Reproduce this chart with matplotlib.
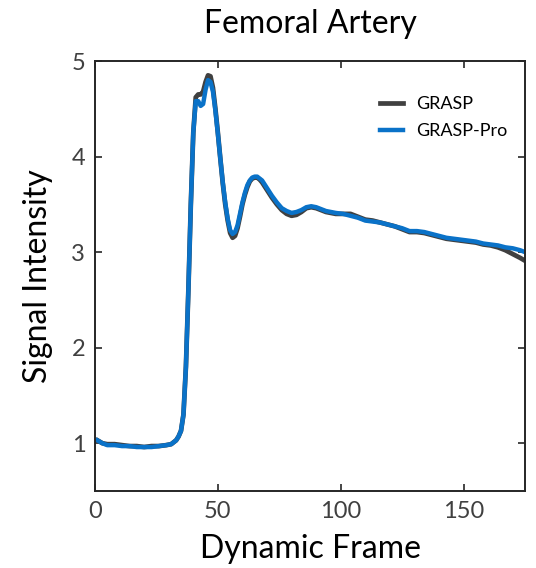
import matplotlib
matplotlib.use("Agg")
import matplotlib.pyplot as plt

plt.rcParams['font.family'] = ['Lato', 'DejaVu Sans']

frames = [1, 3, 5, 8, 11, 14, 17, 20, 23, 26, 29, 31, 32, 33, 34, 35, 36, 37, 38, 39,
          40, 41, 42, 43, 44, 45, 46, 47, 48, 49, 50, 51, 52, 53, 54, 55, 56, 57, 58, 59,
          60, 61, 62, 63, 64, 65, 66, 67, 68, 70, 72, 74, 76, 78, 80, 82, 84, 86, 88, 90,
          92, 94, 96, 98, 101, 104, 107, 110, 113, 116, 119, 122, 125, 128, 131, 134, 137,
          140, 143, 146, 149, 152, 155, 158, 161, 164, 167, 170, 173, 175]

grasp = [1.03, 1.00, 0.99, 0.99, 0.98, 0.97, 0.97, 0.96, 0.97, 0.97, 0.98, 0.99, 1.01, 1.03,
         1.07, 1.13, 1.30, 1.80, 2.60, 3.50, 4.25, 4.62, 4.65, 4.65, 4.68, 4.78, 4.85, 4.84,
         4.72, 4.50, 4.25, 3.98, 3.72, 3.50, 3.33, 3.20, 3.15, 3.17, 3.25, 3.37, 3.50, 3.60,
         3.68, 3.74, 3.77, 3.78, 3.78, 3.76, 3.73, 3.65, 3.57, 3.50, 3.44, 3.40, 3.38, 3.39,
         3.42, 3.46, 3.47, 3.46, 3.44, 3.42, 3.41, 3.40, 3.40, 3.40, 3.37, 3.34, 3.33, 3.31,
         3.29, 3.27, 3.24, 3.21, 3.21, 3.20, 3.18, 3.16, 3.14, 3.13, 3.12, 3.11, 3.10, 3.08,
         3.07, 3.05, 3.02, 2.98, 2.94, 2.91]

grasp_pro = [1.03, 1.00, 0.98, 0.98, 0.97, 0.97, 0.96, 0.96, 0.96, 0.97, 0.98, 0.99, 1.01, 1.03,
             1.07, 1.13, 1.30, 1.80, 2.60, 3.50, 4.25, 4.58, 4.58, 4.53, 4.55, 4.70, 4.80, 4.78,
             4.68, 4.48, 4.24, 3.98, 3.73, 3.52, 3.35, 3.23, 3.19, 3.21, 3.28, 3.40, 3.52, 3.62,
             3.70, 3.75, 3.78, 3.79, 3.79, 3.77, 3.75, 3.67, 3.59, 3.52, 3.46, 3.43, 3.41, 3.42,
             3.44, 3.47, 3.48, 3.47, 3.45, 3.43, 3.42, 3.41, 3.40, 3.38, 3.36, 3.33, 3.32, 3.31,
             3.29, 3.27, 3.25, 3.22, 3.22, 3.21, 3.19, 3.17, 3.15, 3.14, 3.13, 3.12, 3.11, 3.09,
             3.08, 3.07, 3.05, 3.04, 3.02, 3.00]

xticks = [0, 50, 100, 150]
yticks = [1, 2, 3, 4, 5]

fig = plt.figure(figsize=(5.36, 5.68), dpi=100)
ax = fig.add_axes([95/536, 1 - 491/568, (525 - 95)/536, (491 - 61)/568])

ax.plot(frames, grasp, color='#404040', lw=3.4, label='GRASP', solid_joinstyle='round')
ax.plot(frames, grasp_pro, color='#0a72c8', lw=3.2, label='GRASP-Pro', solid_joinstyle='round')

ax.set_xlim(0, 175)
ax.set_ylim(0.5, 5)
ax.set_xticks(xticks)
ax.set_yticks(yticks)
ax.tick_params(direction='in', length=5, width=1.2, top=True, right=True,
               labelsize=17, labelcolor='#404040', color='#262626', pad=7)
for s in ax.spines.values():
    s.set_linewidth(1.4)
    s.set_color('#262626')

ax.set_xlabel('Dynamic Frame', fontsize=23, color='black', labelpad=9)
ax.set_ylabel('Signal Intensity', fontsize=23, color='black', labelpad=13)
ax.set_title('Femoral Artery', fontsize=23, color='black', pad=20)

leg = ax.legend(loc='upper right', frameon=False, fontsize=13, handlelength=1.3,
                handletextpad=0.7, borderaxespad=0.0, labelspacing=0.6,
                bbox_to_anchor=(0.975, 0.935))

fig.savefig('out.png', dpi=100)
